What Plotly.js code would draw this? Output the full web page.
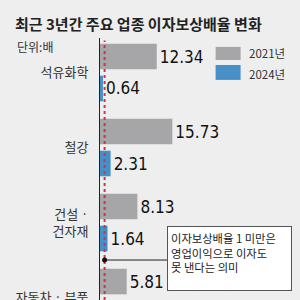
<!DOCTYPE html>
<html>
<head>
<meta charset="utf-8">
<script src="https://cdn.plot.ly/plotly-3.0.1.min.js"></script>
<style>html,body{margin:0;padding:0;background:#eeeeee;}#chart{width:300px;height:300px;}</style>
</head>
<body>
<div id="chart"></div>
<script>
const categories = ['석유화학', '철강', '건설 ·<br>건자재', '자동차 · 부품'];
const values2021 = [12.34, 15.73, 8.13, 5.81];
const values2024 = [0.64, 2.31, 1.64, null];
const seriesNames = ['2021년', '2024년'];
const threshold = 1;
const titleText = '최근 3년간 주요 업종 이자보상배율 변화';
const unitText = '단위:배';
const noteText = '이자보상배율 1 미만은<br>영업이익으로 이자도<br>못 낸다는 의미';

const colors = ['#a6a6a8', '#4790c7'];
const cjk = '"Noto Sans CJK KR", "Noto Sans", sans-serif';
const narrow = '"Liberation Sans Narrow", "DejaVu Sans Condensed", "Roboto Condensed", sans-serif';

function fmt(arr) { return arr.map(v => v == null ? '' : v.toFixed(2)); }

const traces = [values2021, values2024].map((vals, i) => ({
  type: 'bar',
  orientation: 'h',
  name: seriesNames[i],
  y: categories,
  x: vals,
  text: fmt(vals),
  textposition: 'outside',
  cliponaxis: false,
  textfont: {family: narrow, size: 17, color: '#111'},
  marker: {color: colors[i], line: {width: 0}},
  hoverinfo: 'skip',
  showlegend: false
}));

const shapes = [
  {type: 'line', xref: 'x', yref: 'paper', x0: threshold, x1: threshold, y0: 0, y1: 0.99,
   line: {color: '#d9304a', width: 2, dash: 'dot'}, layer: 'above'},
  {type: 'line', xref: 'x', yref: 'y', x0: threshold, x1: 14.55, y0: 2.5, y1: 2.5,
   line: {color: '#222', width: 1}, layer: 'above'},
  {type: 'circle', xref: 'x', yref: 'y', xsizemode: 'pixel', ysizemode: 'pixel',
   xanchor: threshold, yanchor: 2.5, x0: -2.5, x1: 2.5, y0: -2.5, y1: 2.5,
   fillcolor: '#111', line: {width: 0}, layer: 'above'},
  // legend swatches
  {type: 'rect', xref: 'paper', yref: 'paper', x0: 0.578, x1: 0.703, y0: 0.916, y1: 0.966,
   fillcolor: colors[0], line: {width: 0}},
  {type: 'rect', xref: 'paper', yref: 'paper', x0: 0.578, x1: 0.703, y0: 0.840, y1: 0.897,
   fillcolor: colors[1], line: {width: 0}}
];

const annotations = [
  {xref: 'paper', yref: 'paper', x: -0.425, y: 0.966, xanchor: 'left', yanchor: 'middle',
   text: unitText, showarrow: false, font: {family: cjk, size: 12, color: '#333'}},
  {xref: 'paper', yref: 'paper', x: 0.735, y: 0.943, xanchor: 'left', yanchor: 'middle',
   text: seriesNames[0], showarrow: false, font: {family: cjk, size: 11.5, color: '#333'}},
  {xref: 'paper', yref: 'paper', x: 0.735, y: 0.863, xanchor: 'left', yanchor: 'middle',
   text: seriesNames[1], showarrow: false, font: {family: cjk, size: 11.5, color: '#333'}},
  {xref: 'paper', yref: 'paper', x: 0.334, y: 0.282, xanchor: 'left', yanchor: 'top',
   text: noteText, showarrow: false, align: 'left', valign: 'top',
   width: 117, height: 57, borderpad: 3, bgcolor: '#ffffff', bordercolor: '#555', borderwidth: 1,
   font: {family: cjk, size: 11.3, color: '#222'}}
];

const layout = {
  width: 300, height: 300,
  margin: {l: 100, r: 0, t: 38, b: 0},
  paper_bgcolor: '#eeeeee', plot_bgcolor: '#eeeeee',
  title: {text: '<b>' + titleText + '</b>', x: 0.05, xanchor: 'left', xref: 'container',
          y: 1 - 25/300, yanchor: 'middle', yref: 'container',
          font: {family: cjk, size: 15, color: '#222'}},
  barmode: 'group', bargap: 0.147, bargroupgap: 0.2,
  xaxis: {range: [0, 43.48], showgrid: false, zeroline: false, showticklabels: false,
          showline: false, ticks: '', fixedrange: true},
  yaxis: {type: 'category', range: [3.033, -0.46], showgrid: false, zeroline: false,
          showline: true, linecolor: '#222', linewidth: 1, ticks: '', ticklabelstandoff: 8,
          tickfont: {family: cjk, size: 13, color: '#333'}, fixedrange: true},
  shapes: shapes,
  annotations: annotations,
  showlegend: false
};

Plotly.newPlot('chart', traces, layout, {staticPlot: true, displayModeBar: false});
</script>
</body>
</html>
